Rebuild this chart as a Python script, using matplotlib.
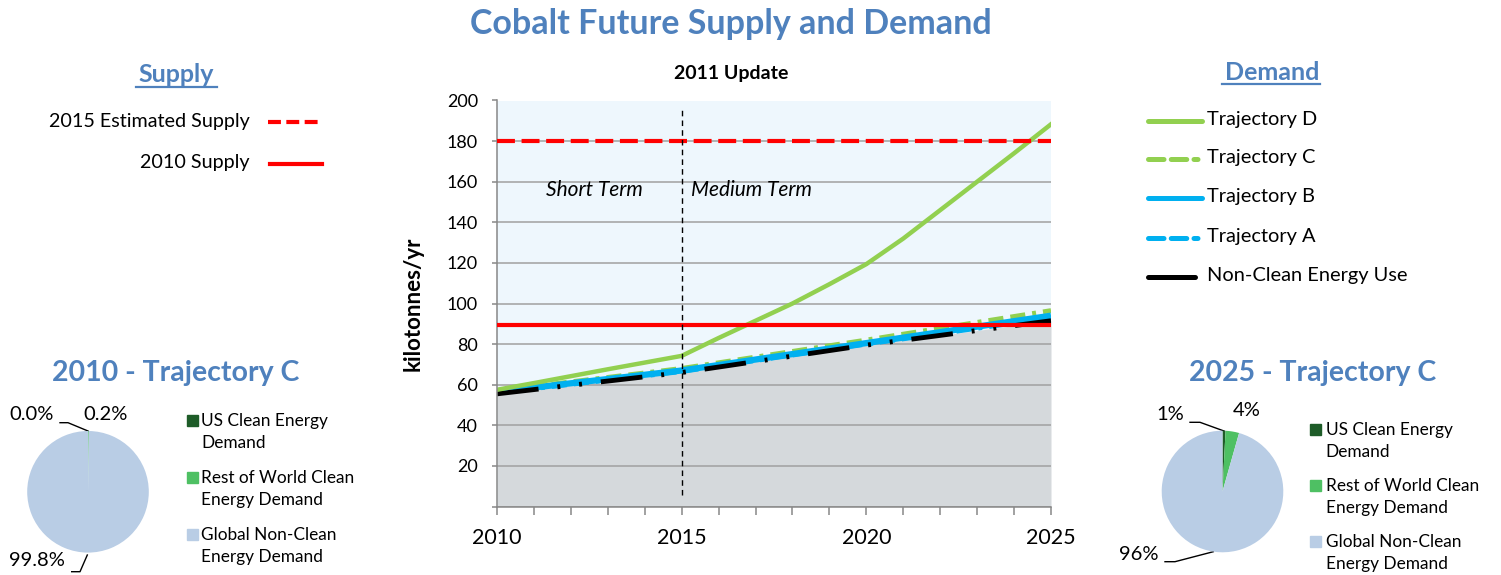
import matplotlib
matplotlib.use("Agg")
import matplotlib.pyplot as plt

plt.rcParams['font.family'] = ['Lato', 'DejaVu Sans']

# ---------------- data ----------------
years = list(range(2010, 2026))
traj_d = [57.5, 60.8, 64.2, 67.6, 70.9, 74.2, 83.0, 91.5, 100.0, 109.5, 119.4, 132.0, 146.0, 160.0, 174.0, 188.3]
traj_c = [57.0, 59.2, 61.4, 63.6, 65.8, 68.0, 70.8, 73.6, 76.4, 79.2, 82.0, 84.9, 87.8, 90.7, 93.6, 96.5]
traj_b = [56.5, 58.6, 60.7, 62.8, 64.9, 67.0, 69.7, 72.4, 75.1, 77.8, 80.5, 83.2, 85.9, 88.6, 91.3, 94.0]
traj_a = [56.0, 58.1, 60.2, 62.3, 64.4, 66.5, 69.2, 71.9, 74.6, 77.3, 80.0, 82.6, 85.2, 87.8, 90.4, 93.0]
non_clean = [55.5, 57.6, 59.7, 61.8, 63.9, 66.0, 68.7, 71.4, 74.1, 76.8, 79.5, 81.9, 84.3, 86.7, 89.1, 91.5]
supply_2015_est = 180
supply_2010 = 89.5

x_tick_labels = ['2010', '2015', '2020', '2025']
y_ticks = [0, 20, 40, 60, 80, 100, 120, 140, 160, 180, 200]

pie_labels = ['US Clean Energy\nDemand', 'Rest of World Clean\nEnergy Demand', 'Global Non-Clean\nEnergy Demand']
pie_2010 = [0.0, 0.2, 99.8]
pie_2025 = [0.8, 3.6, 95.6]

# ---------------- styles ----------------
BLUE_T = '#4F81BD'
GREEN = '#92D050'
CYAN = '#00B0F0'
RED = '#FF0000'
PIE_COLORS = ['#1E5C28', '#4EC063', '#B9CDE5']
DASH_DOT2 = (0, (8.6, 3.9, 0.6, 3.9, 0.6, 3.9))
DASH_DASH_DOT = (0, (3.1, 1.45, 3.1, 1.45, 0.8, 1.45))

W, H = 1501, 575
fig = plt.figure(figsize=(W / 100, H / 100), dpi=100)

# overlay axes in pixel coordinates for free text
ov = fig.add_axes([0, 0, 1, 1], zorder=0)
ov.set_xlim(0, W)
ov.set_ylim(H, 0)
ov.axis('off')

def px_axes(x0, y0, x1, y1, **kw):
    return fig.add_axes([x0 / W, 1 - y1 / H, (x1 - x0) / W, (y1 - y0) / H], **kw)

# ---------------- main chart ----------------
ax = px_axes(497, 100.5, 1051, 506.5, zorder=2)
ax.set_facecolor('#EEF7FD')
ax.fill_between(years, 0, non_clean, color='#D5D9DC', lw=0, zorder=0.3)
ax.set_axisbelow(True)
ax.yaxis.grid(True, color='#A0A0A0', lw=1.1)

ax.plot(years, traj_c, color=GREEN, lw=3.5, ls=DASH_DASH_DOT, zorder=2)
ax.plot(years, traj_b, color=CYAN, lw=4.5, solid_capstyle='butt', zorder=2.1)
ax.plot(years, traj_a, color=CYAN, lw=3.5, ls=DASH_DASH_DOT, zorder=2.2)
ax.plot(years, non_clean, color='black', lw=3.5, ls=DASH_DOT2, zorder=2.3)
ax.plot(years, traj_d, color=GREEN, lw=3.2, zorder=2.4)
ax.axhline(supply_2015_est, color=RED, lw=3, ls=(0, (4.3, 1.6)), zorder=3)
ax.axhline(supply_2010, color=RED, lw=3, zorder=3)
ax.plot([2015, 2015], [5.7, 196], color='black', lw=1, ls=(0, (4, 3)), zorder=3.1)

ax.text(2011.33, 156, 'Short Term', style='italic', fontsize=15, va='center', ha='left')
ax.text(2015.24, 156, 'Medium Term', style='italic', fontsize=15, va='center', ha='left')

ax.set_xlim(2010, 2025)
ax.set_ylim(0, 200)
ax.set_xticks(years)
ax.set_xticklabels([str(y) if str(y) in x_tick_labels else '' for y in years], fontsize=15.5)
ax.set_yticks(y_ticks)
ax.set_yticklabels(['' if v == 0 else str(v) for v in y_ticks], fontsize=13)
ax.tick_params(axis='x', length=5.8, width=1.1, color='#888888', pad=10)
ax.tick_params(axis='y', length=3.6, width=1.1, color='#888888', pad=10)
for s in ['top', 'right']:
    ax.spines[s].set_visible(False)
for s in ['left', 'bottom']:
    ax.spines[s].set_color('#888888')
    ax.spines[s].set_linewidth(1.1)
ax.set_ylabel('kilotonnes/yr', fontsize=16, fontweight='bold', labelpad=17)

# ---------------- titles ----------------
ov.text(731, 24, 'Cobalt Future Supply and Demand', fontsize=24.5, fontweight='bold', color=BLUE_T,
        ha='center', va='center')
ov.text(731.5, 73.3, '2011 Update', fontsize=14, fontweight='bold', ha='center', va='center')

# ---------------- Supply legend ----------------
ov.text(176.5, 74, 'Supply', fontsize=18, fontweight='bold', color=BLUE_T, ha='center', va='center')
ov.plot([136, 217], [87.3, 87.3], color=BLUE_T, lw=1.6)
ov.text(250, 121.7, '2015 Estimated Supply', fontsize=14.2, ha='right', va='center')
ov.plot([268, 318], [122.3, 122.3], color=RED, lw=3, ls=(0, (3.1, 1.3)))
ov.text(250, 162.7, '2010 Supply', fontsize=14.2, ha='right', va='center')
ov.plot([270, 321.5], [164, 164], color=RED, lw=3)

# ---------------- Demand legend ----------------
ov.text(1271.7, 72, 'Demand', fontsize=18, fontweight='bold', color=BLUE_T, ha='center', va='center')
ov.plot([1221.7, 1320], [84.3, 84.3], color=BLUE_T, lw=1.6)
dem_items = [
    ('Trajectory D', GREEN, '-', 121, 1201.7),
    ('Trajectory C', GREEN, DASH_DASH_DOT, 159, 1201.7),
    ('Trajectory B', CYAN, '-', 197.7, 1201.7),
    ('Trajectory A', CYAN, DASH_DASH_DOT, 237.7, 1201.7),
    ('Non-Clean Energy Use', 'black', '-', 276.7, 1195),
]
for lab, col, ls, yy, xe in dem_items:
    ov.plot([1148.3, xe], [yy, yy], color=col, lw=3.6, ls=ls, solid_capstyle='round',
            dash_capstyle='round')
    ov.text(1207.3, yy - 1, lab, fontsize=14.4, ha='left', va='center')

# ---------------- Pies ----------------
def draw_pie(cx, cy, r, vals, fmt, title_xy, label_specs, leg_sq_x, leg_txt_x, leg_ys):
    pax = px_axes(cx - r, cy - r, cx + r, cy + r, zorder=2)
    pax.pie(vals, colors=PIE_COLORS, startangle=90, counterclock=False,
            wedgeprops=dict(linewidth=0))
    pax.set_xlim(-1, 1)
    pax.set_ylim(-1, 1)
    ov.text(title_xy[0], title_xy[1], title_xy[2], fontsize=20.5, fontweight='bold', color=BLUE_T,
            ha='center', va='center')
    for i, (tx, ty, lead) in enumerate(label_specs):
        ov.text(tx, ty, fmt.format(vals[i]), fontsize=14.5, ha='center', va='center')
        if lead:
            ov.plot([p[0] for p in lead], [p[1] for p in lead], color='black', lw=1.0)
    for (lab, col, yy) in zip(pie_labels, PIE_COLORS, leg_ys):
        ov.add_patch(plt.Rectangle((leg_sq_x, yy - 5.5), 10.5, 11, color=col))
        ov.text(leg_txt_x, yy + 12, lab, fontsize=12.4, ha='left', va='center', linespacing=1.42)

draw_pie(88, 491.8, 60.8, pie_2010, '{:.1f}%', (175.8, 373, '2010 - Trajectory C'),
         [(31.7, 415, [(60, 422.7), (68, 422.7), (88, 431)]),
          (106, 415, None),
          (36.7, 560, [(71.7, 571.7), (80, 571.7), (87.3, 555)])],
         187, 201, [420.2, 477, 534])

draw_pie(1222.5, 491.5, 60.8, pie_2025, '{:.0f}%', (1312.5, 373, '2025 - Trajectory C'),
         [(1170, 415, [(1190, 422.3), (1200, 422.3), (1224, 431)]),
          (1246.7, 410, None),
          (1139, 554, [(1165, 561.7), (1175, 561.7), (1213.3, 551.7)])],
         1310, 1325.5, [429, 485, 541])

fig.savefig('out.png', dpi=100)
